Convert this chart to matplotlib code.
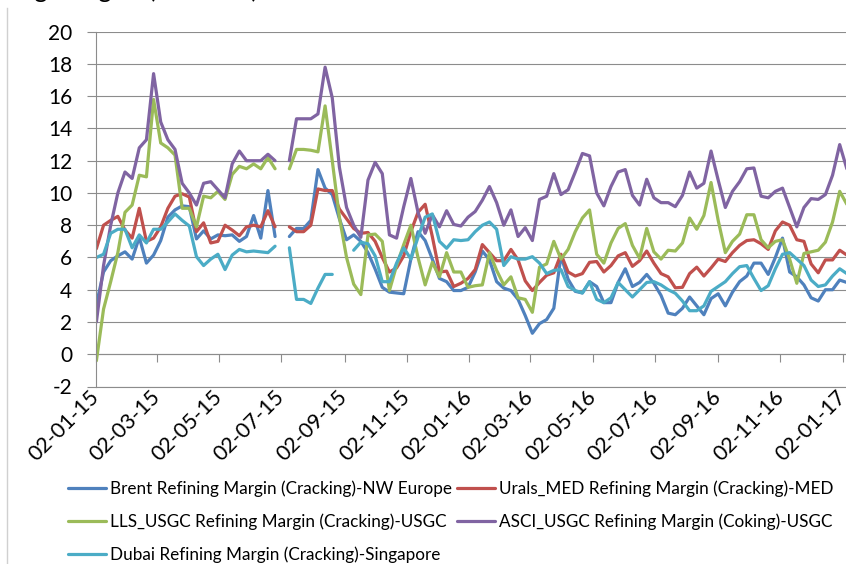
import numpy as np
import pandas as pd
import matplotlib
matplotlib.use("Agg")
import matplotlib.pyplot as plt
from matplotlib.lines import Line2D

nan = np.nan

weeks = pd.date_range("2015-01-02", periods=106, freq="7D")
tick_dates = pd.date_range("2015-01-02", "2017-01-02", freq=pd.DateOffset(months=2))
tick_labels = [d.strftime("%d-%m-%y") for d in tick_dates]
y_ticks = list(range(-2, 21, 2))

brent = [
    3.1, 5.1, 5.8, 6.1, 6.35, 5.9, 7.25, 5.65, 6.15, 7.05,
    8.5, 8.95, 9.2, 9.15, 7.15, 7.65, 7.15, 7.4, 7.35, 7.4,
    7.0, 7.3, 8.6, 7.2, 10.15, 7.3, nan, 7.3, 7.8, 7.8,
    8.3, 11.45, 10.3, 9.9, 8.4, 7.1, 7.4, 7.0, 6.3, 5.28,
    4.15, 3.85, 3.8, 3.75, 5.9, 7.6, 7.05, 5.9, 4.7, 4.5,
    3.95, 3.95, 4.15, 5.1, 6.4, 5.85, 4.5, 4.1, 3.95, 3.4,
    2.4, 1.3, 1.9, 2.15, 2.85, 6.1, 4.65, 3.9, 3.8, 4.5,
    4.2, 3.2, 3.2, 4.45, 5.3, 4.2, 4.45, 4.95, 4.4, 3.65,
    2.55, 2.45, 2.85, 3.55, 3.0, 2.45, 3.45, 3.75, 3.0, 3.85,
    4.5, 4.85, 5.65, 5.65, 4.95, 6.0, 7.2, 5.1, 4.8, 4.3,
    3.5, 3.3, 4.0, 4.0, 4.6, 4.45,
]

urals = [
    6.55, 8.0, 8.3, 8.55, 7.7, 7.2, 9.05, 7.0, 7.2, 7.9,
    9.05, 9.8, 9.95, 9.75, 7.6, 8.15, 6.9, 7.0, 8.0, 7.7,
    7.35, 7.9, 8.0, 7.9, 8.9, 7.9, nan, 7.9, 7.6, 7.6,
    8.0, 10.25, 10.15, 10.15, 9.0, 8.4, 7.8, 7.5, 7.55, 7.0,
    6.0, 5.1, 5.35, 6.1, 7.6, 8.8, 9.3, 7.3, 5.1, 5.15,
    4.2, 4.4, 4.7, 5.25, 6.8, 6.3, 5.8, 5.8, 6.5, 5.85,
    4.55, 3.95, 4.45, 4.9, 5.05, 6.2, 5.1, 4.85, 5.0, 5.7,
    5.75, 5.1, 5.5, 6.1, 6.3, 5.45, 5.8, 6.4, 5.65, 5.0,
    4.8, 4.12, 4.15, 5.0, 5.4, 4.85, 5.35, 5.9, 5.75, 6.3,
    6.75, 7.05, 7.1, 6.85, 6.5, 7.65, 8.2, 8.0, 7.1, 7.0,
    5.6, 5.05, 5.85, 5.85, 6.45, 6.15,
]

lls = [
    -0.4, 2.8, 4.5, 6.3, 8.8, 9.25, 11.1, 11.0, 15.8, 13.1,
    12.8, 12.35, 9.05, 9.05, 7.9, 9.8, 9.7, 10.1, 9.6, 11.15,
    11.65, 11.5, 11.8, 11.5, 12.2, 11.5, nan, 11.5, 12.7, 12.7,
    12.65, 12.55, 15.4, 12.0, 8.5, 6.0, 4.35, 3.7, 7.4, 7.45,
    7.0, 3.95, 5.5, 6.8, 8.0, 6.0, 4.3, 5.7, 4.8, 6.3,
    5.1, 5.1, 4.15, 4.25, 4.3, 6.3, 5.2, 4.3, 4.8, 3.5,
    3.4, 2.6, 5.4, 5.6, 7.0, 5.9, 6.5, 7.6, 8.45, 8.95,
    6.2, 5.65, 6.9, 7.8, 8.1, 6.75, 5.95, 7.8, 6.35, 5.9,
    6.45, 6.4, 6.9, 8.45, 7.75, 8.6, 10.65, 8.3, 6.3, 7.0,
    7.45, 8.65, 8.65, 7.1, 6.6, 7.0, 7.1, 5.9, 4.4, 6.25,
    6.35, 6.45, 6.95, 8.2, 10.1, 9.3,
]

asci = [
    2.0, 5.5, 8.0, 10.0, 11.3, 10.9, 12.8, 13.3, 17.4, 14.4,
    13.3, 12.7, 10.6, 10.0, 9.25, 10.6, 10.7, 10.2, 9.7, 11.8,
    12.6, 12.0, 12.0, 12.0, 12.4, 12.0, nan, 12.0, 14.6, 14.6,
    14.6, 14.9, 17.8, 15.9, 11.6, 9.1, 8.0, 7.25, 10.8, 11.9,
    11.2, 7.4, 7.2, 9.15, 10.9, 8.8, 7.5, 8.65, 7.9, 8.9,
    8.05, 7.95, 8.5, 8.85, 9.55, 10.4, 9.4, 8.0, 8.95, 7.3,
    7.85, 7.05, 9.6, 9.8, 11.2, 9.9, 10.2, 11.3, 12.45, 12.3,
    10.0, 9.2, 10.4, 11.3, 11.45, 9.85, 9.25, 10.85, 9.7, 9.4,
    9.4, 9.15, 9.85, 11.3, 10.3, 10.6, 12.6, 10.8, 9.1, 10.1,
    10.7, 11.5, 11.55, 9.8, 9.7, 10.1, 10.3, 9.1, 7.9, 9.1,
    9.65, 9.6, 9.9, 11.1, 13.0, 11.5,
]

dubai = [
    6.0, 6.2, 7.5, 7.75, 7.75, 6.6, 7.4, 6.9, 7.75, 7.75,
    8.2, 8.7, 8.3, 7.95, 6.05, 5.5, 5.9, 6.2, 5.25, 6.15,
    6.5, 6.35, 6.4, 6.35, 6.3, 6.7, nan, 6.6, 3.4, 3.4,
    3.15, 4.1, 4.95, 4.95, nan, nan, 6.45, 6.95, 6.85, 6.1,
    4.5, 4.5, 5.65, 6.6, 5.9, 7.25, 8.5, 8.7, 7.0, 6.57,
    7.1, 7.05, 7.1, 7.6, 8.0, 8.2, 7.75, 5.5, 6.05, 5.9,
    5.9, 6.05, 5.65, 5.0, 5.2, 5.25, 4.2, 3.95, 3.8, 4.5,
    3.4, 3.2, 3.5, 4.45, 4.0, 3.55, 4.0, 4.45, 4.5, 4.3,
    4.0, 3.78, 3.3, 2.7, 2.7, 3.0, 3.9, 4.2, 4.5, 5.0,
    5.43, 5.5, 4.7, 3.95, 4.25, 5.3, 6.2, 6.3, 5.9, 5.5,
    4.6, 4.2, 4.3, 4.85, 5.3, 5.0,
]

series_names = [
    "Brent Refining Margin (Cracking)-NW Europe",
    "Urals_MED Refining Margin (Cracking)-MED",
    "LLS_USGC Refining Margin (Cracking)-USGC",
    "ASCI_USGC Refining Margin (Coking)-USGC",
    "Dubai Refining Margin (Cracking)-Singapore",
]
series_values = [brent, urals, lls, asci, dubai]
series_colors = ["#4F81BD", "#C0504D", "#9BBB59", "#8064A2", "#4BACC6"]

plt.rcParams["font.family"] = ["Lato", "DejaVu Sans"]

W, H = 846, 564
fig = plt.figure(figsize=(W / 100, H / 100), dpi=100)

left_px, right_px = 96.4, 880
top_px, bottom_px = 31.7, 386.5
px_per_day = 1.021

ax = fig.add_axes([
    left_px / W,
    1 - bottom_px / H,
    (right_px - left_px) / W,
    (bottom_px - top_px) / H,
])

grid_color = "#8c8c8c"

lines = []
for name, vals, col in zip(series_names, series_values, series_colors):
    (ln,) = ax.plot(weeks, vals, color=col, linewidth=2.3, label=name,
                    solid_joinstyle="round", solid_capstyle="round")
    lines.append(ln)

ax.set_xlim(weeks[0], weeks[0] + pd.Timedelta(days=(right_px - left_px) / px_per_day))
ax.set_ylim(-2, 20)
ax.set_yticks(y_ticks)
ax.set_yticklabels([str(v) for v in y_ticks])
ax.yaxis.grid(True, color=grid_color, linewidth=0.8)
ax.set_axisbelow(True)

for side in ["top", "right"]:
    ax.spines[side].set_visible(False)
ax.spines["left"].set_color(grid_color)
ax.spines["left"].set_linewidth(0.8)
ax.spines["bottom"].set_color(grid_color)
ax.spines["bottom"].set_linewidth(0.8)

ax.tick_params(axis="y", length=6.5, width=0.8, color=grid_color,
               pad=11, labelsize=15)
ax.set_xticks(tick_dates)
ax.set_xticklabels(tick_labels, rotation=45, ha="right", va="center",
                   rotation_mode="anchor", fontsize=15.5)
ax.tick_params(axis="x", length=0, pad=5)

# category axis crosses at zero, ticks hang below it
sec = ax.secondary_xaxis(2 / 22)
sec.set_xticks(tick_dates)
sec.tick_params(axis="x", length=5.5, width=0.8, color=grid_color,
                labelbottom=False)
sec.spines["bottom"].set_color(grid_color)
sec.spines["bottom"].set_linewidth(0.8)

order = [0, 2, 4, 1, 3]
fig.legend([lines[i] for i in order], [series_names[i] for i in order],
           loc="upper left", bbox_to_anchor=(68 / W, 1 - 480 / H),
           ncol=2, frameon=False, fontsize=12.3, handlelength=2.2,
           handletextpad=0.25, columnspacing=0.3, labelspacing=0.97,
           borderpad=0, borderaxespad=0)

fig.text(258 / W, 1.0 + 2 / H, "Weekly Refining Margins (USD/bbl)",
         ha="right", va="baseline", fontsize=18)
fig.add_artist(Line2D([7 / W, 7 / W], [0, 1 - 8 / H], color="#d0d0d0",
                      linewidth=1))

fig.savefig("out.png", dpi=100)
